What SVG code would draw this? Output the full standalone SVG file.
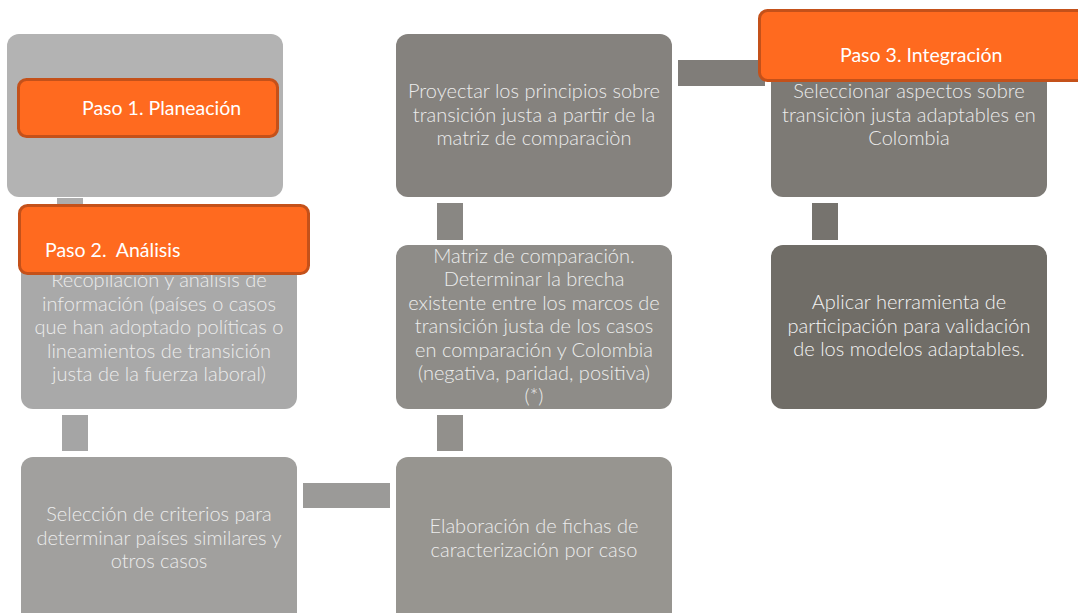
<svg xmlns="http://www.w3.org/2000/svg" width="1078" height="613" viewBox="0 0 1078 613">
<style>
.t{font-family:Lato,"Open Sans","Liberation Sans",sans-serif;font-size:20px;fill:#ececec;text-anchor:middle;font-weight:300}
.o{fill:#ff6a1f;stroke:#c4511a;stroke-width:3}
.ot{font-family:Lato,"Open Sans","Liberation Sans",sans-serif;font-size:19.5px;fill:#ffffff}
</style>
<rect width="1078" height="613" fill="#ffffff"/>
<g id="connectors">
<rect x="57" y="198" width="26" height="14" fill="#adadad"/>
<rect x="62" y="415" width="26" height="36" fill="#a5a5a5"/>
<rect x="303" y="483" width="87" height="25" fill="#9b9a98"/>
<rect x="437" y="415" width="26" height="36" fill="#92908c"/>
<rect x="437" y="203" width="26" height="37" fill="#898783"/>
<rect x="678" y="60" width="87" height="26" fill="#807d79"/>
<rect x="812" y="203" width="26" height="37" fill="#76736e"/>
</g>
<g id="n-planeacion">
<rect x="7" y="34" width="276" height="163" rx="12" fill="#b3b3b3"/>
</g>
<g id="n-recopilacion">
<rect x="21" y="245" width="276" height="164" rx="12" fill="#a9a9a9"/>
<text class="t" x="159" y="287">Recopilación y análisis de</text>
<text class="t" x="159" y="311">información (países o casos</text>
<text class="t" x="159" y="334">que han adoptado políticas o</text>
<text class="t" x="159" y="358">lineamientos de transición</text>
<text class="t" x="159" y="381">justa de la fuerza laboral)</text>
</g>
<g id="n-seleccion">
<rect x="21" y="457" width="276" height="170" rx="12" fill="#a1a09e"/>
<text class="t" x="159" y="521">Selección de criterios para</text>
<text class="t" x="159" y="545">determinar países similares y</text>
<text class="t" x="159" y="568">otros casos</text>
</g>
<g id="n-fichas">
<rect x="396" y="457" width="276" height="170" rx="12" fill="#979590"/>
<text class="t" x="534" y="533">Elaboración de fichas de</text>
<text class="t" x="534" y="557">caracterización por caso</text>
</g>
<g id="n-matriz">
<rect x="396" y="245" width="276" height="164" rx="12" fill="#8e8c88"/>
<text class="t" x="534" y="263">Matriz de comparación.</text>
<text class="t" x="534" y="286">Determinar la brecha</text>
<text class="t" x="534" y="310">existente entre los marcos de</text>
<text class="t" x="534" y="333">transición justa de los casos</text>
<text class="t" x="534" y="357">en comparación y Colombia</text>
<text class="t" x="534" y="380">(negativa, paridad, positiva)</text>
<text class="t" x="534" y="403">(*)</text>
</g>
<g id="n-proyectar">
<rect x="396" y="34" width="276" height="163" rx="12" fill="#85827e"/>
<text class="t" x="534" y="98">Proyectar los principios sobre</text>
<text class="t" x="534" y="122">transición justa a partir de la</text>
<text class="t" x="534" y="145">matriz de comparaciòn</text>
</g>
<g id="n-seleccionar">
<rect x="771" y="34" width="276" height="163" rx="12" fill="#7d7a75"/>
<text class="t" x="909" y="98">Seleccionar aspectos sobre</text>
<text class="t" x="909" y="122">transiciòn justa adaptables en</text>
<text class="t" x="909" y="145">Colombia</text>
</g>
<g id="n-aplicar">
<rect x="771" y="245" width="276" height="164" rx="12" fill="#706d67"/>
<text class="t" x="909" y="309" style="fill:#f4f4f4">Aplicar herramienta de</text>
<text class="t" x="909" y="333" style="fill:#f4f4f4">participación para validación</text>
<text class="t" x="909" y="356" style="fill:#f4f4f4">de los modelos adaptables.</text>
</g>
<g id="n-paso1">
<rect class="o" x="18.5" y="79.5" width="259" height="57" rx="8"/>
<text class="ot" x="82" y="115">Paso 1. Planeación</text>
</g>
<g id="n-paso2">
<rect class="o" x="19.5" y="205.5" width="289" height="68" rx="8"/>
<text class="ot" x="45" y="257" xml:space="preserve">Paso 2.  Análisis</text>
</g>
<g id="n-paso3">
<rect class="o" x="759.5" y="10.5" width="330" height="70" rx="8"/>
<text class="ot" x="840" y="62">Paso 3. Integración</text>
</g>
</svg>
